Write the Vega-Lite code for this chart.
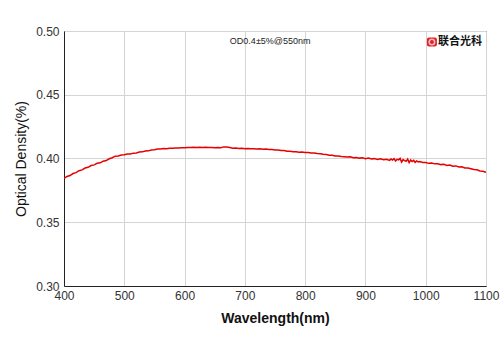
{
  "$schema": "https://vega.github.io/schema/vega-lite/v6.json",
  "width": 422,
  "height": 255,
  "autosize": {"type": "none"},
  "padding": {"left": 64, "top": 31, "right": 14, "bottom": 67},
  "background": "white",
  "config": {
    "view": {"stroke": "#333333", "strokeWidth": 1},
    "font": "Liberation Sans",
    "axis": {"labelFont": "Liberation Sans", "titleFont": "Liberation Sans", "labelColor": "#333333", "titleColor": "#111111", "gridColor": "#d4d4d4", "gridWidth": 1, "domainColor": "#222222", "ticks": false, "labelFontSize": 12}
  },
  "datasets": {
    "curve": [
      {"w":400,"od":0.3845},{"w":405,"od":0.3859},{"w":410,"od":0.3866},{"w":415,"od":0.3882},{"w":420,"od":0.3889},{"w":425,"od":0.3904},{"w":430,"od":0.3911},{"w":435,"od":0.3925},{"w":440,"od":0.3931},{"w":445,"od":0.3945},{"w":450,"od":0.395},{"w":455,"od":0.3962},{"w":460,"od":0.3966},{"w":465,"od":0.3979},{"w":470,"od":0.3984},{"w":475,"od":0.3998},{"w":480,"od":0.4006},{"w":485,"od":0.4018},{"w":490,"od":0.402},{"w":495,"od":0.4028},{"w":500,"od":0.4029},{"w":505,"od":0.4035},{"w":510,"od":0.4036},{"w":515,"od":0.4042},{"w":520,"od":0.4044},{"w":525,"od":0.4051},{"w":530,"od":0.4052},{"w":535,"od":0.4059},{"w":540,"od":0.406},{"w":545,"od":0.4067},{"w":550,"od":0.4069},{"w":555,"od":0.4074},{"w":560,"od":0.4074},{"w":565,"od":0.4078},{"w":570,"od":0.4077},{"w":575,"od":0.4081},{"w":580,"od":0.408},{"w":585,"od":0.4083},{"w":590,"od":0.4082},{"w":595,"od":0.4085},{"w":600,"od":0.4084},{"w":605,"od":0.4087},{"w":610,"od":0.4086},{"w":615,"od":0.4089},{"w":620,"od":0.4087},{"w":625,"od":0.4089},{"w":630,"od":0.4087},{"w":635,"od":0.4088},{"w":640,"od":0.4086},{"w":645,"od":0.4087},{"w":650,"od":0.4084},{"w":655,"od":0.4086},{"w":660,"od":0.4085},{"w":665,"od":0.4091},{"w":670,"od":0.4091},{"w":675,"od":0.4087},{"w":680,"od":0.4081},{"w":685,"od":0.4082},{"w":690,"od":0.4079},{"w":695,"od":0.408},{"w":700,"od":0.4077},{"w":705,"od":0.4078},{"w":710,"od":0.4076},{"w":715,"od":0.4077},{"w":720,"od":0.4075},{"w":725,"od":0.4076},{"w":730,"od":0.4073},{"w":735,"od":0.4074},{"w":740,"od":0.4071},{"w":745,"od":0.4071},{"w":750,"od":0.4067},{"w":755,"od":0.4067},{"w":760,"od":0.4062},{"w":765,"od":0.4062},{"w":770,"od":0.4057},{"w":775,"od":0.4057},{"w":780,"od":0.4053},{"w":785,"od":0.4053},{"w":790,"od":0.4049},{"w":795,"od":0.405},{"w":800,"od":0.4047},{"w":805,"od":0.4047},{"w":810,"od":0.4043},{"w":815,"od":0.4043},{"w":820,"od":0.4039},{"w":825,"od":0.4038},{"w":830,"od":0.4033},{"w":835,"od":0.4032},{"w":840,"od":0.4026},{"w":845,"od":0.4026},
      {"w":850,"od":0.402},{"w":855,"od":0.4019},{"w":860,"od":0.4016},{"w":865,"od":0.4014},{"w":870,"od":0.4011},{"w":875,"od":0.4013},{"w":880,"od":0.4006},{"w":885,"od":0.4008},{"w":890,"od":0.4003},{"w":895,"od":0.4006},{"w":900,"od":0.3999},{"w":905,"od":0.4003},{"w":910,"od":0.3997},{"w":915,"od":0.3999},{"w":920,"od":0.3993},{"w":925,"od":0.3998},{"w":930,"od":0.399},{"w":935,"od":0.3994},{"w":940,"od":0.3985},{"w":942.5,"od":0.3996},{"w":945,"od":0.3988},{"w":947.5,"od":0.3999},{"w":950,"od":0.398},{"w":952.5,"od":0.3994},{"w":955,"od":0.399},{"w":957.5,"od":0.4001},{"w":960,"od":0.3972},{"w":962.5,"od":0.3992},{"w":965,"od":0.3984},{"w":967.5,"od":0.3978},{"w":970,"od":0.3995},{"w":972.5,"od":0.3968},{"w":975,"od":0.3988},{"w":977.5,"od":0.3976},{"w":980,"od":0.3985},{"w":982.5,"od":0.397},{"w":985,"od":0.3981},{"w":987.5,"od":0.3973},{"w":990,"od":0.3976},{"w":995,"od":0.3968},{"w":1000,"od":0.3969},{"w":1005,"od":0.3962},{"w":1010,"od":0.3964},{"w":1015,"od":0.3958},{"w":1020,"od":0.3959},{"w":1025,"od":0.3952},{"w":1030,"od":0.3954},{"w":1035,"od":0.3946},{"w":1040,"od":0.3949},{"w":1045,"od":0.394},{"w":1050,"od":0.3942},{"w":1055,"od":0.3933},{"w":1060,"od":0.3935},{"w":1065,"od":0.3926},{"w":1070,"od":0.3925},{"w":1075,"od":0.3919},{"w":1080,"od":0.3913},{"w":1085,"od":0.3911},{"w":1090,"od":0.3902},{"w":1095,"od":0.39},{"w":1100,"od":0.3891}
    ],
    "note": [{"w": 742, "od": 0.4922, "label": "OD0.4±5%@550nm"}],
    "logoBox": [{"w1": 1002, "w2": 1018.6, "od1": 0.4878, "od2": 0.4949}],
    "logoRing": [{"w": 1010.3, "od": 0.4914}],
    "logoText": [{"w": 1057, "od": 0.4917, "label": "联合光科"}]
  },
  "layer": [
    {
      "data": {"name": "curve"},
      "mark": {"type": "line", "color": "#e60000", "strokeWidth": 1.5, "clip": true},
      "encoding": {
        "x": {"field": "w", "type": "quantitative", "scale": {"domain": [400, 1100], "nice": false},
          "axis": {"values": [400,500,600,700,800,900,1000,1100], "format": "d", "title": "Wavelength(nm)", "titleFontSize": 14, "titleFontWeight": "bold", "labelPadding": 4, "titlePadding": 10, "labelFlush": false}},
        "y": {"field": "od", "type": "quantitative", "scale": {"domain": [0.3, 0.5], "nice": false, "zero": false},
          "axis": {"values": [0.3,0.35,0.4,0.45,0.5], "format": ".2f", "title": "Optical Density(%)", "titleFontSize": 14, "titleFontWeight": "normal", "labelPadding": 5, "titlePadding": 7}}
      }
    },
    {
      "data": {"name": "note"},
      "mark": {"type": "text", "fontSize": 9, "color": "#222222", "font": "Liberation Sans"},
      "encoding": {"x": {"field": "w", "type": "quantitative"}, "y": {"field": "od", "type": "quantitative"}, "text": {"field": "label"}}
    },
    {
      "data": {"name": "logoBox"},
      "mark": {"type": "rect", "color": "#e0202a", "cornerRadius": 2},
      "encoding": {"x": {"field": "w1", "type": "quantitative"}, "x2": {"field": "w2"}, "y": {"field": "od1", "type": "quantitative"}, "y2": {"field": "od2"}}
    },
    {
      "data": {"name": "logoRing"},
      "mark": {"type": "point", "filled": false, "stroke": "white", "strokeWidth": 1.6, "size": 30},
      "encoding": {"x": {"field": "w", "type": "quantitative"}, "y": {"field": "od", "type": "quantitative"}}
    },
    {
      "data": {"name": "logoText"},
      "mark": {"type": "text", "fontSize": 11, "fontWeight": "bold", "color": "#111111", "font": "Noto Sans CJK SC"},
      "encoding": {"x": {"field": "w", "type": "quantitative"}, "y": {"field": "od", "type": "quantitative"}, "text": {"field": "label"}}
    }
  ]
}
